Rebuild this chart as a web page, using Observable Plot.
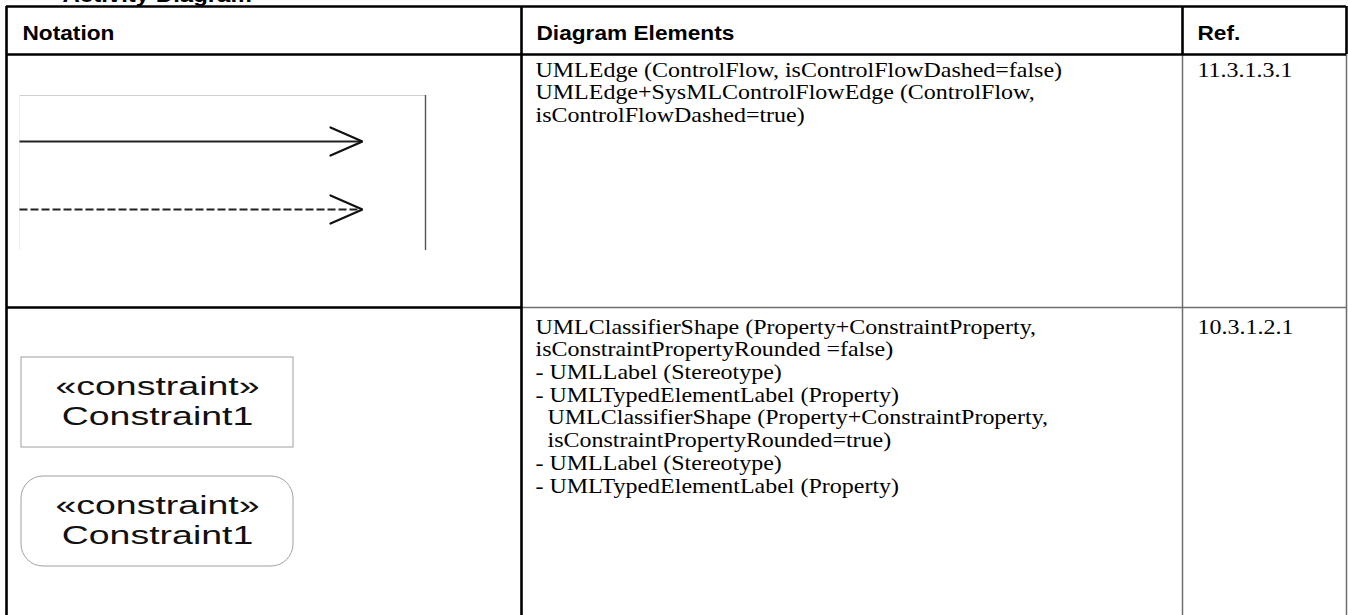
<!DOCTYPE html>
<html><head><meta charset="utf-8">
<script src="https://cdn.jsdelivr.net/npm/d3@7"></script>
<script src="https://cdn.jsdelivr.net/npm/@observablehq/plot@0.6"></script>
<style>
html,body{margin:0;padding:0;background:#fff;overflow:hidden;}
#chart svg{display:block;}
#chart svg text{white-space:pre;}
</style></head><body><div id="chart"></div>
<script>
// ---------- data (table content) ----------
const title = "Activity Diagram";
const headers = ["Notation", "Diagram Elements", "Ref."];
const row1Elements = [
  "UMLEdge (ControlFlow, isControlFlowDashed=false)",
  "UMLEdge+SysMLControlFlowEdge (ControlFlow,",
  "isControlFlowDashed=true)"
];
const row2Elements = [
  "UMLClassifierShape (Property+ConstraintProperty,",
  "isConstraintPropertyRounded =false)",
  "- UMLLabel (Stereotype)",
  "- UMLTypedElementLabel (Property)",
  "  UMLClassifierShape (Property+ConstraintProperty,",
  "  isConstraintPropertyRounded=true)",
  "- UMLLabel (Stereotype)",
  "- UMLTypedElementLabel (Property)"
];
const refs = ["11.3.1.3.1", "10.3.1.2.1"];
const flowStyles = ["solid", "dashed"];
const constraintLabel = ["«constraint»", "Constraint1"];
const constraintShapes = ["rectangle", "rounded"];

// ---------- layout (geometry, not data) ----------
const W = 1348, H = 615;
const L = {
  colX: [6, 521, 1182, 1346],
  rowY: [6, 54, 307, 660],
  padX: 15,
  headerMid: 27,
  bodyTop: [6, 10],
  lineH: 22.7,
  arrowBox: {x1: 19, x2: 425, y1: 95, y2: 250},
  arrowY0: 141, arrowGap: 68, arrowX1: 19, arrowX2: 362, headLen: 32, headHalf: 14,
  cBox: {x1: 21, x2: 293, y0: 357, h: 90, gap: 119, rx: 22},
  cText: [29, 59],
  titleX: 62, titleY: 1
};
const F = {
  sans: "'Liberation Sans', Arial, Helvetica, sans-serif",
  serif: "'Liberation Serif', 'Times New Roman', Times, serif"
};
const FS = {header: 21, body: 22, notation: 25.5, title: 20};
const SX = {header: 1.08, body: 1.09, notation: 1.47, title: 1.2};

// ---------- derived mark data ----------
const [c0, c1, c2, c3] = L.colX;
const [r0, r1, r2, r3] = L.rowY;
const thickH = [{y: r0, x1: c0, x2: c3}, {y: r1, x1: c0, x2: c3}, {y: r2, x1: c0, x2: c1}];
const thinH = [{y: r2, x1: c1, x2: c3}];
const thickV = [{x: c0, y1: r0, y2: r3}, {x: c1, y1: r0, y2: r3}, {x: c2, y1: r0, y2: r1}, {x: c3, y1: r0, y2: r1}];
const thinV = [{x: c2, y1: r1, y2: r3}, {x: c3, y1: r1, y2: r3}];

const headerCells = headers.map((t, i) => ({x: L.colX[i] + L.padX + (i === 0 ? 1 : 0), y: r0 + L.headerMid, text: t}));
const bodyCells = [
  {x: c1 + 14, y: r1 + L.bodyTop[0], text: row1Elements.join("\n")},
  {x: c1 + 14, y: r2 + L.bodyTop[1], text: row2Elements.join("\n")},
  {x: c2 + 15, y: r1 + L.bodyTop[0], text: refs[0]},
  {x: c2 + 15, y: r2 + L.bodyTop[1], text: refs[1]}
];

const flows = flowStyles.map((s, i) => ({style: s, y: L.arrowY0 + i * L.arrowGap}));
const heads = flows.flatMap((f, i) => [
  {id: i, x: L.arrowX2 - L.headLen, y: f.y - L.headHalf},
  {id: i, x: L.arrowX2, y: f.y},
  {id: i, x: L.arrowX2 - L.headLen, y: f.y + L.headHalf}
]);
const ab = L.arrowBox;

const cBoxes = constraintShapes.map((s, i) => ({
  shape: s, x1: L.cBox.x1, x2: L.cBox.x2,
  y1: L.cBox.y0 + i * L.cBox.gap, y2: L.cBox.y0 + i * L.cBox.gap + L.cBox.h
}));
const cTexts = cBoxes.flatMap(b => constraintLabel.map((t, j) => ({x: (b.x1 + b.x2) / 2, y: b.y1 + L.cText[j], text: t})));

const linkOpts = {x1: () => L.arrowX1, x2: () => L.arrowX2 - 2, y1: "y", y2: "y", stroke: "#222", strokeWidth: 1.8};

const chart = Plot.plot({
  width: W, height: H,
  margin: 0,
  x: {domain: [0, W], range: [0, W], axis: null},
  y: {domain: [0, H], range: [0, H], axis: null},
  style: {background: "#fff", overflow: "visible"},
  marks: [
    // title fragment (cut off at the top, as in the reference)
    Plot.text([title], {x: () => L.titleX, y: () => L.titleY, text: d => d, textAnchor: "start", lineAnchor: "bottom",
      fontFamily: F.sans, fontWeight: "bold", fontSize: FS.title, fill: "#000", ariaDescription: "title-text"}),
    // notation: control flow image frame
    Plot.ruleY([ab], {y: "y1", x1: "x1", x2: "x2", stroke: "#cfcfcf", strokeWidth: 1}),
    Plot.ruleX([ab], {x: "x2", y1: "y1", y2: "y2", stroke: "#555", strokeWidth: 1.4}),
    Plot.ruleX([ab], {x: "x1", y1: "y1", y2: "y2", stroke: "#eee", strokeWidth: 1}),
    // notation: control flow edges
    Plot.link(flows.filter(d => d.style === "solid"), linkOpts),
    Plot.link(flows.filter(d => d.style === "dashed"), {...linkOpts, strokeDasharray: "8,3"}),
    Plot.line(heads, {x: "x", y: "y", z: "id", stroke: "#111", strokeWidth: 2.2, strokeLinejoin: "miter"}),
    // notation: constraint property shapes
    Plot.rect(cBoxes.filter(d => d.shape === "rectangle"), {x1: "x1", x2: "x2", y1: "y1", y2: "y2", fill: "none", stroke: "#a0a0a0", strokeWidth: 1}),
    Plot.rect(cBoxes.filter(d => d.shape === "rounded"), {x1: "x1", x2: "x2", y1: "y1", y2: "y2", fill: "none", stroke: "#a0a0a0", strokeWidth: 1, rx: L.cBox.rx}),
    Plot.text(cTexts, {x: "x", y: "y", text: "text", textAnchor: "middle", lineAnchor: "middle",
      fontFamily: F.sans, fontSize: FS.notation, fill: "#111", ariaDescription: "notation-text"}),
    // table grid
    Plot.ruleY(thinH, {y: "y", x1: "x1", x2: "x2", stroke: "#6e6e6e", strokeWidth: 1.5}),
    Plot.ruleX(thinV, {x: "x", y1: "y1", y2: "y2", stroke: "#6e6e6e", strokeWidth: 1.5}),
    Plot.ruleY(thickH, {y: "y", x1: "x1", x2: "x2", stroke: "#000", strokeWidth: 2.6}),
    Plot.ruleX(thickV, {x: "x", y1: "y1", y2: "y2", stroke: "#000", strokeWidth: 2.6}),
    // header and body text
    Plot.text(headerCells, {x: "x", y: "y", text: "text", textAnchor: "start", lineAnchor: "middle",
      fontFamily: F.sans, fontWeight: "bold", fontSize: FS.header, fill: "#000", ariaDescription: "header-text"}),
    Plot.text(bodyCells, {x: "x", y: "y", text: "text", textAnchor: "start", lineAnchor: "top",
      lineHeight: L.lineH / FS.body, fontFamily: F.serif, fontSize: FS.body, fill: "#000", ariaDescription: "body-text"})
  ]
});

// horizontal glyph stretch as in the reference rendering
function stretch(svg, desc, sx) {
  svg.querySelectorAll(`[aria-description="${desc}"] text`).forEach(t => {
    const tr = t.getAttribute("transform");
    if (tr) t.setAttribute("transform", tr + ` scale(${sx},1)`);
    else {
      const x = +t.getAttribute("x") || 0, y = +t.getAttribute("y") || 0;
      t.setAttribute("transform", `translate(${x},${y}) scale(${sx},1) translate(${-x},${-y})`);
    }
  });
}
stretch(chart, "title-text", SX.title);
stretch(chart, "header-text", SX.header);
stretch(chart, "body-text", SX.body);
stretch(chart, "notation-text", SX.notation);

document.getElementById("chart").appendChild(chart);
</script></body></html>
